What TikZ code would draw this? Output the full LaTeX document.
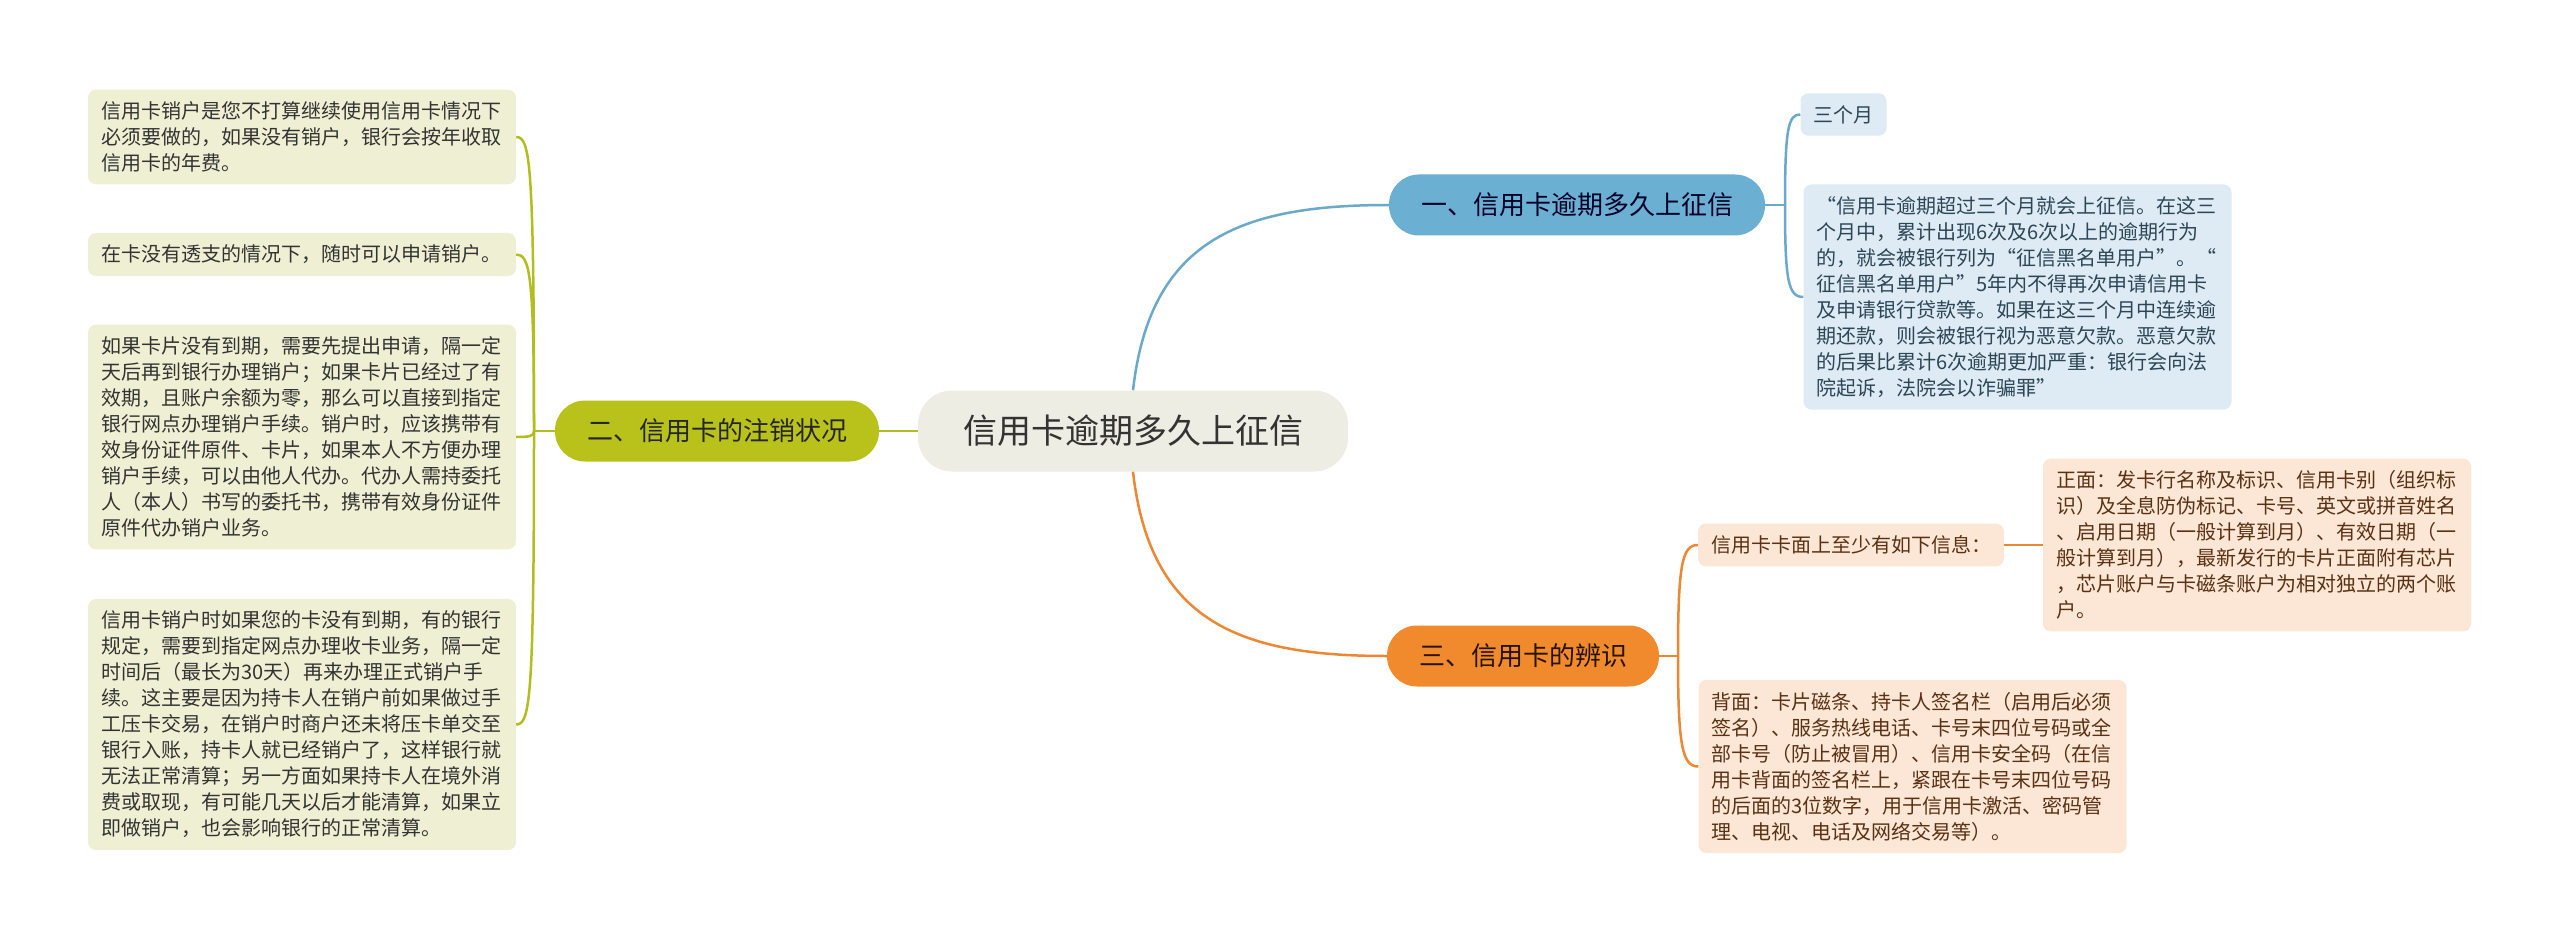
\documentclass[tikz,border=0pt]{standalone}
\usepackage{fontspec}
\usepackage{xcolor}
\usepackage{tikz}
\newfontfamily\cjk{Noto Sans CJK SC}

\definecolor{rootfill}{HTML}{EDEDE4}
\definecolor{bluemain}{HTML}{6BAFD2}
\definecolor{blueline}{HTML}{6AA9CA}
\definecolor{bluepale}{HTML}{DEEBF4}
\definecolor{bluetext}{HTML}{2C4656}
\definecolor{greenmain}{HTML}{B9C21A}
\definecolor{greenline}{HTML}{B3BD1F}
\definecolor{greenpale}{HTML}{EFF0D3}
\definecolor{orangemain}{HTML}{F18A2D}
\definecolor{orangeline}{HTML}{EC8733}
\definecolor{orangepale}{HTML}{FCE6D6}
\definecolor{orangetext}{HTML}{5A3213}

\begin{document}
\begin{tikzpicture}[
  x=1pt, y=-1pt,
  root/.style={fill=rootfill, rounded corners=34pt, minimum width=430pt,
    minimum height=81pt, text=black!80, font=\cjk\fontsize{34pt}{40pt}\selectfont},
  branch/.style={rounded corners=30pt, inner xsep=32pt, minimum height=61pt,
    font=\cjk\fontsize{26pt}{30pt}\selectfont},
  leaf/.style={rounded corners=8pt, inner xsep=13pt, inner ysep=12pt, align=left,
    font=\cjk\fontsize{20pt}{26pt}\selectfont},
  wide/.style={text width=402pt},
  bleaf/.style={leaf, fill=bluepale, text=bluetext},
  gleaf/.style={leaf, fill=greenpale, text=black!80},
  oleaf/.style={leaf, fill=orangepale, text=orangetext},
  bline/.style={draw=blueline, line width=2.5pt},
  gline/.style={draw=greenline, line width=2.5pt},
  oline/.style={draw=orangeline, line width=2.5pt},
]
\useasboundingbox (0,0) rectangle (2560,944);

% Centre and the three main topics
\node[root] (root) at (1133,431) {信用卡逾期多久上征信};
\node[branch, fill=bluemain, text=black!85!blue] (b1) at (1577,205) {一、信用卡逾期多久上征信};
\node[branch, fill=greenmain, text=black!85] (b2) at (717,431) {二、信用卡的注销状况};
\node[branch, fill=orangemain, text=black!85!orange] (b3) at (1523,656) {三、信用卡的辨识};

\draw[bline] (root.north) .. controls (1150,240) and (1240,205) .. (b1.west);
\draw[gline] (root.west) -- (b2.east);
\draw[oline] (root.south) .. controls (1150,622) and (1240,656) .. (b3.west);

% ─── Topic 1 (right, blue) ───────────────────────────────────────────────
\node[bleaf] (l11) at (1843.5,114.5) {三个月};
\node[bleaf, wide] (l12) at (2017.5,297) {%
  “信用卡逾期超过三个月就会上征信。在这三\\
  个月中，累计出现6次及6次以上的逾期行为\\
  的，就会被银行列为“征信黑名单用户”。“\\
  征信黑名单用户”5年内不得再次申请信用卡\\
  及申请银行贷款等。如果在这三个月中连续逾\\
  期还款，则会被银行视为恶意欠款。恶意欠款\\
  的后果比累计6次逾期更加严重：银行会向法\\
  院起诉，法院会以诈骗罪”};

\coordinate (j1) at (1785,205);
\draw[bline] (b1.east) -- (j1);
\draw[bline] (j1) .. controls (1785,130) and (1788,114) .. (l11.west);
\draw[bline] (j1) .. controls (1785,280) and (1788,297) .. (l12.west);

% ─── Topic 2 (left, green) ───────────────────────────────────────────────
\node[gleaf, wide] (l21) at (302,137) {%
  信用卡销户是您不打算继续使用信用卡情况下\\
  必须要做的，如果没有销户，银行会按年收取\\
  信用卡的年费。};
\node[gleaf, wide] (l22) at (302,254.5) {在卡没有透支的情况下，随时可以申请销户。};
\node[gleaf, wide] (l23) at (302,437) {%
  如果卡片没有到期，需要先提出申请，隔一定\\
  天后再到银行办理销户；如果卡片已经过了有\\
  效期，且账户余额为零，那么可以直接到指定\\
  银行网点办理销户手续。销户时，应该携带有\\
  效身份证件原件、卡片，如果本人不方便办理\\
  销户手续，可以由他人代办。代办人需持委托\\
  人（本人）书写的委托书，携带有效身份证件\\
  原件代办销户业务。};
\node[gleaf, wide] (l24) at (302,724.5) {%
  信用卡销户时如果您的卡没有到期，有的银行\\
  规定，需要到指定网点办理收卡业务，隔一定\\
  时间后（最长为30天）再来办理正式销户手\\
  续。这主要是因为持卡人在销户前如果做过手\\
  工压卡交易，在销户时商户还未将压卡单交至\\
  银行入账，持卡人就已经销户了，这样银行就\\
  无法正常清算；另一方面如果持卡人在境外消\\
  费或取现，有可能几天以后才能清算，如果立\\
  即做销户，也会影响银行的正常清算。};

\coordinate (j2) at (534,431);
\draw[gline] (b2.west) -- (j2);
\draw[gline] (j2) .. controls (534,160) and (530,137) .. (l21.east);
\draw[gline] (j2) .. controls (534,275) and (530,254.5) .. (l22.east);
\draw[gline] (j2) .. controls (534,436) and (530,437) .. (l23.east);
\draw[gline] (j2) .. controls (534,700) and (530,724.5) .. (l24.east);

% ─── Topic 3 (right, orange) ─────────────────────────────────────────────
\node[oleaf] (l31) at (1851,545) {信用卡卡面上至少有如下信息：};
\node[oleaf, wide] (l311) at (2257,545) {%
  正面：发卡行名称及标识、信用卡别（组织标\\
  识）及全息防伪标记、卡号、英文或拼音姓名\\
  、启用日期（一般计算到月）、有效日期（一\\
  般计算到月），最新发行的卡片正面附有芯片\\
  ，芯片账户与卡磁条账户为相对独立的两个账\\
  户。};
\node[oleaf, wide] (l32) at (1912.5,766.5) {%
  背面：卡片磁条、持卡人签名栏（启用后必须\\
  签名）、服务热线电话、卡号末四位号码或全\\
  部卡号（防止被冒用）、信用卡安全码（在信\\
  用卡背面的签名栏上，紧跟在卡号末四位号码\\
  的后面的3位数字，用于信用卡激活、密码管\\
  理、电视、电话及网络交易等）。};

\coordinate (j3) at (1678,656);
\draw[oline] (b3.east) -- (j3);
\draw[oline] (j3) .. controls (1678,565) and (1682,545) .. (l31.west);
\draw[oline] (j3) .. controls (1678,745) and (1682,766.5) .. (l32.west);
\draw[oline] (l31.east) -- (l311.west);

\end{tikzpicture}
\end{document}
